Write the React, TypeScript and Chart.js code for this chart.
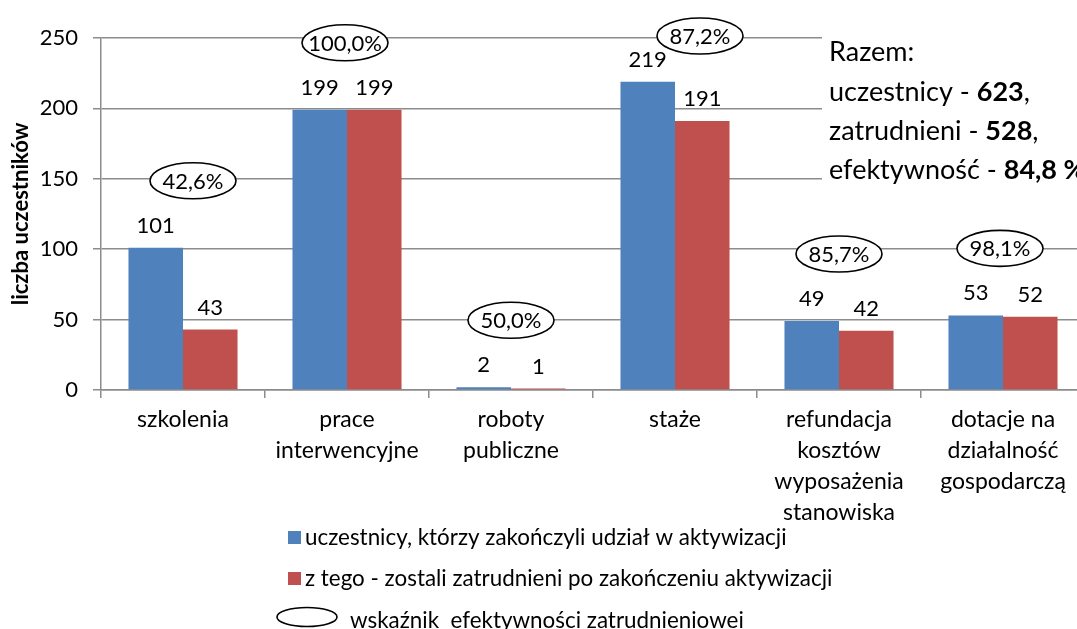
import React, { useEffect, useRef } from 'react';
import { Chart, registerables } from 'chart.js';

Chart.register(...registerables);

const categories: string[][] = [
  ['szkolenia'],
  ['prace', 'interwencyjne'],
  ['roboty', 'publiczne'],
  ['staże'],
  ['refundacja', 'kosztów', 'wyposażenia', 'stanowiska'],
  ['dotacje na', 'działalność', 'gospodarczą'],
];
const participants = [101, 199, 2, 219, 49, 53];
const employed = [43, 199, 1, 191, 42, 52];
const efficiencyLabels = ['42,6%', '100,0%', '50,0%', '87,2%', '85,7%', '98,1%'];
const yTicks = [0, 50, 100, 150, 200, 250];
const seriesNames = [
  'uczestnicy, którzy zakończyli udział w aktywizacji',
  'z tego - zostali zatrudnieni po zakończeniu aktywizacji',
];
const ellipseLegendText = 'wskaźnik  efektywności zatrudnieniowei';
const yTitle = 'liczba uczestników';
const summaryLines: { text: string; bold: boolean }[][] = [
  [{ text: 'Razem:', bold: false }],
  [{ text: 'uczestnicy - ', bold: false }, { text: '623', bold: true }, { text: ',', bold: false }],
  [{ text: 'zatrudnieni - ', bold: false }, { text: '528', bold: true }, { text: ',', bold: false }],
  [{ text: 'efektywność - ', bold: false }, { text: '84,8 %', bold: true }],
];

const FONT = 'Lato, "Open Sans", sans-serif';
const BLUE = '#4F81BD';
const RED = '#C0504D';
const GRID = '#8c8c8c';

const ellipseXOffsets = [10, -2, 0, 25, 0, -3];

const overlayPlugin = {
  id: 'overlay',
  afterDatasetsDraw(chart: any) {
    const ctx = chart.ctx as CanvasRenderingContext2D;
    const m0 = chart.getDatasetMeta(0);
    const m1 = chart.getDatasetMeta(1);
    const xScale = chart.scales.x;
    ctx.save();
    // data labels
    ctx.fillStyle = '#000';
    ctx.textAlign = 'center';
    ctx.textBaseline = 'middle';
    ctx.font = `22px ${FONT}`;
    [m0, m1].forEach((meta: any, di: number) => {
      const vals = di === 0 ? participants : employed;
      meta.data.forEach((bar: any, i: number) => {
        ctx.fillText(String(vals[i]), bar.x, bar.y - 22);
      });
    });
    // efficiency ellipses
    categories.forEach((_, i) => {
      const top = Math.min(m0.data[i].y, m1.data[i].y);
      const cx = xScale.getPixelForValue(i) + ellipseXOffsets[i];
      const cy = Math.max(36, top - 67);
      ctx.beginPath();
      ctx.ellipse(cx, cy, 43, 18, 0, 0, Math.PI * 2);
      ctx.fillStyle = '#fff';
      ctx.fill();
      ctx.lineWidth = 1.6;
      ctx.strokeStyle = '#000';
      ctx.stroke();
      ctx.fillStyle = '#000';
      ctx.font = `22px ${FONT}`;
      ctx.fillText(efficiencyLabels[i], cx, cy + 1);
    });
    ctx.restore();
  },
  afterDraw(chart: any) {
    const ctx = chart.ctx as CanvasRenderingContext2D;
    ctx.save();
    // summary box
    ctx.fillStyle = '#fff';
    ctx.fillRect(822, 0, chart.width - 822, 200);
    ctx.fillStyle = '#000';
    ctx.textAlign = 'left';
    ctx.textBaseline = 'middle';
    const lineYs = [52, 92, 131, 170];
    summaryLines.forEach((segs, li) => {
      let x = 829;
      segs.forEach((s) => {
        ctx.font = `${s.bold ? 'bold ' : ''}27px ${FONT}`;
        ctx.fillText(s.text, x, lineYs[li]);
        x += ctx.measureText(s.text).width;
      });
    });
    // legend
    ctx.font = `22.4px ${FONT}`;
    ctx.fillStyle = BLUE;
    ctx.fillRect(288, 531, 13, 13);
    ctx.fillStyle = '#000';
    ctx.fillText(seriesNames[0], 305, 538);
    ctx.fillStyle = RED;
    ctx.fillRect(288, 572, 13, 13);
    ctx.fillStyle = '#000';
    ctx.fillText(seriesNames[1], 305, 579);
    ctx.beginPath();
    ctx.ellipse(307, 617, 30, 9.5, 0, 0, Math.PI * 2);
    ctx.lineWidth = 1.6;
    ctx.strokeStyle = '#000';
    ctx.stroke();
    ctx.fillText(ellipseLegendText, 350, 621);
    ctx.restore();
  },
};

export default function App() {
  const canvasRef = useRef<HTMLCanvasElement | null>(null);

  useEffect(() => {
    if (!canvasRef.current) return;
    document.body.style.overflow = 'hidden';
    const chart = new Chart(canvasRef.current, {
      type: 'bar',
      data: {
        labels: categories,
        datasets: [
          {
            label: seriesNames[0],
            data: participants,
            backgroundColor: BLUE,
            categoryPercentage: 0.665,
            barPercentage: 1.0,
          },
          {
            label: seriesNames[1],
            data: employed,
            backgroundColor: RED,
            categoryPercentage: 0.665,
            barPercentage: 1.0,
          },
        ],
      },
      options: {
        responsive: false,
        animation: false,
        devicePixelRatio: 1,
        layout: { padding: { top: 38, right: 15, left: 0, bottom: 0 } },
        plugins: {
          legend: { display: false },
          tooltip: { enabled: false },
        },
        scales: {
          x: {
            grid: {
              offset: true,
              drawOnChartArea: false,
              tickLength: 8,
              color: GRID,
              lineWidth: 1.5,
            },
            border: { color: GRID, width: 1.5 },
            ticks: {
              color: '#000',
              font: { family: FONT, size: 23, lineHeight: 1.35 },
              padding: 6,
              maxRotation: 0,
              minRotation: 0,
              autoSkip: false,
            },
            afterFit: (scale: any) => {
              scale.height = 239;
            },
          },
          y: {
            min: 0,
            max: 250,
            afterBuildTicks: (scale: any) => {
              scale.ticks = yTicks.map((v) => ({ value: v }));
            },
            grid: { color: GRID, tickLength: 8, lineWidth: 1.5 },
            border: { color: GRID, width: 1.5 },
            ticks: {
              color: '#000',
              font: { family: FONT, size: 22 },
              padding: 15,
            },
            title: {
              display: true,
              text: yTitle,
              color: '#000',
              font: { family: FONT, size: 22, weight: 'bold', lineHeight: 1.2 },
              padding: { top: 8, bottom: 0 },
            },
            afterFit: (scale: any) => {
              scale.width = 101;
            },
          },
        },
      },
      plugins: [overlayPlugin],
    });
    return () => chart.destroy();
  }, []);

  return (
    <div style={{ position: 'fixed', left: 0, top: 0, width: 1077, height: 629, overflow: 'hidden', background: '#fff' }}>
      <canvas ref={canvasRef} width={1100} height={629} style={{ display: 'block' }} />
    </div>
  );
}
